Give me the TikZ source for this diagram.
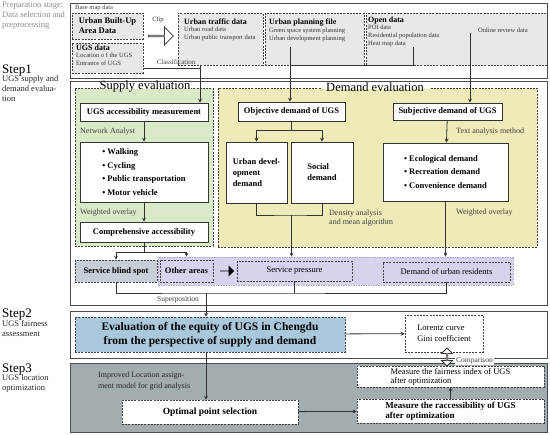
\documentclass[tikz,border=0pt]{standalone}
\usepackage{fontspec}
\setmainfont{Liberation Serif}
\usetikzlibrary{arrows.meta,positioning,shapes.arrows,calc}

% colours of the stages
\definecolor{supgreen}{HTML}{D9EAC8}
\definecolor{demyellow}{HTML}{EEEBB8}
\definecolor{bandlav}{HTML}{D5D3EE}
\definecolor{bandedge}{HTML}{A9A6D0}
\definecolor{evalblue}{HTML}{A9C8DB}
\definecolor{prepgray}{HTML}{E8E8E8}
\definecolor{blindgray}{HTML}{C7CED8}
\definecolor{optigray}{HTML}{A2ADB0}
\definecolor{linegray}{HTML}{333333}

\newcommand\bxfont{\fontsize{8.5}{10}\selectfont\bfseries}
\newcommand\ntfont{\fontsize{8}{9.5}\selectfont}

\tikzset{
  frame/.style={draw=black!70, line width=0.8pt, inner sep=0pt},
  dbox/.style={draw=black!75, dash pattern=on 2pt off 1.2pt, line width=0.7pt, inner sep=2pt, font=\bxfont},
  wbox/.style={draw=black!80, line width=0.8pt, fill=white, inner sep=2pt, font=\bxfont},
  arr/.style={-{Stealth[length=4pt,width=4pt,inset=1.5pt]}, draw=linegray, line width=0.8pt},
  link/.style={draw=linegray, line width=0.8pt},
  note/.style={font=\ntfont, text=black!75, inner sep=0pt, anchor=west},
  ttlsmall/.style={font=\fontsize{8}{9}\selectfont\bfseries, inner sep=0pt, anchor=north west},
  listsmall/.style={font=\fontsize{6.5}{8}\selectfont, text=black!80, inner sep=0pt, anchor=north west, align=left},
  sectitle/.style={font=\fontsize{12.5}{14}\selectfont, inner sep=1pt},
  steplbl/.style={font=\fontsize{13}{14}\selectfont, inner sep=0pt, anchor=west},
  stepdesc/.style={font=\fontsize{8.5}{10}\selectfont, inner sep=0pt, anchor=north west, align=left, text=black!85},
}

\begin{document}
\begin{tikzpicture}[x=1pt,y=-1pt]
  \useasboundingbox (0,0) rectangle (550,435);

  % stage frames
  \node[frame, minimum width=477, minimum height=75] (prepfr) at (308.5,40.5) {};
  \node[frame, minimum width=477, minimum height=224] (s1fr) at (308.5,193) {};
  \node[frame, minimum width=477, minimum height=47] (s2fr) at (308.5,334.5) {};
  \node[frame, fill=optigray, minimum width=477, minimum height=69] (s3fr) at (308.5,397.5) {};

  % stage labels on the left
  \node[anchor=north west, align=left, inner sep=0pt, text=black!45,
        font=\fontsize{8.5}{10}\selectfont] (preplbl) at (2,2) {Preparation stage:\\Data selection and\\preprocessing};
  \node[steplbl] (step1) at (2,71) {Step1};
  \node[stepdesc] (step1d) at ([yshift=1pt]step1.south west) {UGS supply and\\demand evalua-\\tion};
  \node[steplbl] (step2) at (2,315) {Step2};
  \node[stepdesc] (step2d) at ([yshift=1pt]step2.south west) {UGS fairness\\assessment};
  \node[steplbl] (step3) at (2,370) {Step3};
  \node[stepdesc] (step3d) at ([yshift=1pt]step3.south west) {UGS location\\optimization};

  % preparation stage
  \node[note, font=\fontsize{6.5}{8}\selectfont] (basemap) at (75,8) {Base map data};
  \node[dbox, fill=prepgray, minimum width=71, minimum height=26, align=left] (builtup) at (107.5,26) {Urban Built-Up\\Area Data};
  \node[dbox, fill=prepgray, minimum width=71, minimum height=30] (ugsdata) at (107.5,58) {};
  \node[ttlsmall] (ugsttl) at (76,45) {UGS data};
  \node[listsmall] (ugslist) at ([yshift=-1.5pt]ugsttl.south west) {Location o f the UGS\\Entrance of UGS};
  \node[single arrow, draw=black!80, fill=white, line width=0.8pt, minimum width=18, minimum height=25,
        single arrow head extend=4, inner sep=0pt] (cliparr) at (160.5,36) {};
  \node[listsmall, anchor=center] (cliplbl) at (158,20) {Clip};

  \node[dbox, fill=prepgray, minimum width=85, minimum height=52] (traffic) at (220.5,39) {};
  \node[ttlsmall] (traffttl) at (184,19) {Urban traffic data};
  \node[listsmall] (trafflist) at ([yshift=-1.5pt]traffttl.south west) {Urban road data\\Urban public transport data};
  \node[dbox, fill=prepgray, minimum width=99, minimum height=52] (planning) at (314.5,39) {};
  \node[ttlsmall] (planttl) at (269,19) {Urban planning file};
  \node[listsmall] (planlist) at ([yshift=-1pt]planttl.south west) {Green space system planning\\Urban development planning};
  \node[dbox, fill=prepgray, minimum width=181, minimum height=52] (opendata) at (456.5,39) {};
  \node[ttlsmall] (openttl) at (368,17) {Open data};
  \node[listsmall] (openlist) at ([yshift=-0.5pt]openttl.south west) {POI data\\Residential population data\\Heat map data};
  \node[listsmall, anchor=west] (review) at (478,30) {Online review data};
  \node[note, font=\fontsize{7}{8}\selectfont, anchor=center] (clslbl) at (176,62) {Classification};

  % supply and demand evaluation
  \node[dbox, fill=supgreen, minimum width=138, minimum height=158] (supply) at (144,167) {};
  \node[dbox, fill=demyellow, minimum width=319, minimum height=159] (demand) at (377.5,167.5) {};
  \fill[white] (99,86.2) rectangle (191,89.2);
  \fill[white] (321,86.2) rectangle (429,89.2);
  \node[sectitle] (suptitle) at (145,87) {Supply evaluation};
  \node[sectitle] (demtitle) at (375,87) {Demand evaluation};

  \node[wbox, minimum width=128, minimum height=18] (access) at (144,112) {UGS accessibility measurement};
  \node[note] (netlbl) at (80,132) {Network Analyst};
  \node[wbox, minimum width=128, minimum height=60, align=left, font=\fontsize{8.5}{13.5}\selectfont\bfseries] (modes) at (144,172)
    {\textbullet\ Walking\\\textbullet\ Cycling\\\textbullet\ Public transportation\\\textbullet\ Motor vehicle};
  \node[note] (wo1) at (80,213) {Weighted overlay};
  \node[wbox, minimum width=128, minimum height=20] (compre) at (144,232) {Comprehensive accessibility};

  \node[wbox, minimum width=107, minimum height=19] (objective) at (291.5,111.5) {Objective demand of UGS};
  \node[wbox, minimum width=61, minimum height=61, align=left, font=\fontsize{8.5}{11}\selectfont\bfseries] (urbdev) at (256.5,172.5) {Urban devel-\\opment\\demand};
  \node[wbox, minimum width=62, minimum height=61, align=left, font=\fontsize{8.5}{11}\selectfont\bfseries] (social) at (322,172.5) {Social\\demand};
  \node[note, align=left] (denslbl) at (329,218) {Density analysis\\and mean algorithm};
  \node[wbox, minimum width=109, minimum height=17] (subjective) at (447.5,111.5) {Subjective demand of UGS};
  \node[note] (tamlbl) at (456,132) {Text analysis method};
  \node[wbox, minimum width=125, minimum height=58, align=left, font=\fontsize{8.5}{13.5}\selectfont\bfseries] (needs) at (445.5,172)
    {\textbullet\ Ecological demand\\\textbullet\ Recreation demand\\\textbullet\ Convenience demand};
  \node[note] (wo2) at (456,213) {Weighted overlay};

  % results band
  \node[draw=bandedge, dash pattern=on 1.5pt off 1pt, line width=0.8pt, fill=bandlav, minimum width=355, minimum height=28, inner sep=0pt] (band) at (335.5,271) {};
  \node[dbox, fill=blindgray, minimum width=82, minimum height=22] (blind) at (116,271) {Service blind spot};
  \node[dbox, minimum width=53, minimum height=22] (other) at (186.5,271) {Other areas};
  \node[single arrow, fill=black, minimum width=11, minimum height=14, single arrow head extend=2.5, inner sep=0pt] (bigarr) at (227,271) {};
  \node[dbox, minimum width=115, minimum height=20, font=\fontsize{8.5}{10}\selectfont] (press) at (294.5,271) {Service pressure};
  \node[dbox, minimum width=127, minimum height=20, font=\fontsize{8.5}{10}\selectfont] (resid) at (446.5,272) {Demand of urban residents};
  \node[note, font=\fontsize{7.5}{9}\selectfont, anchor=center] (suplbl) at (178,300) {Superposition};

  % fairness assessment
  \node[dbox, fill=evalblue, minimum width=270, minimum height=35, align=center, font=\fontsize{11.5}{13.5}\selectfont\bfseries] (eval) at (210,334.5)
    {Evaluation of the equity of UGS in Chengdu\\from the perspective of supply and demand};
  \node[dbox, fill=white, minimum width=78, minimum height=37, align=left, font=\fontsize{8.5}{11}\selectfont] (lorenz) at (444,333.5) {Lorentz curve\\Gini coefficient};

  % location optimization
  \node[note, align=left, text=black!85, font=\fontsize{8}{11.5}\selectfont] (improved) at (98,381) {Improved Location assign-\\ment model for grid analysis};
  \node[dbox, fill=white, minimum width=176, minimum height=24, font=\fontsize{9.5}{11}\selectfont\bfseries] (optimal) at (210,412) {Optimal point selection};
  \node[dbox, fill=white, minimum width=187, minimum height=21, align=left, font=\fontsize{8.5}{9}\selectfont] (fair) at (450.5,376.5) {Measure the fairness index of UGS\\after optimization};
  \node[dbox, fill=white, minimum width=187, minimum height=24, align=left, font=\fontsize{9}{10}\selectfont\bfseries] (racc) at (450.5,411) {Measure the raccessibility of UGS\\after optimization};
  \node[double arrow, draw=black!80, fill=white, line width=0.8pt, rotate=90, minimum width=11, minimum height=18,
        double arrow head extend=2.5, inner sep=0pt] (cmp) at (447,357) {};
  \node[note, font=\fontsize{7.5}{9}\selectfont, fill=white, inner sep=1pt] (cmplbl) at (455,361) {Comparison};

  % connectors
  \coordinate (clsj) at (200,68);
  \draw[link] (ugsdata.east |- clsj) -- (clsj);
  \draw[arr] (traffic.south -| clsj) -- (access.north -| clsj);

  \coordinate (pt) at (290,47);
  \coordinate (ot) at (413,47);
  \coordinate (pj) at (290,65);
  \coordinate (oj) at (413,65);
  \draw[link] (pt) -- (pj) -- (oj) -- (ot);
  \draw[arr] (pj) -- (objective.north -| pj);
  \coordinate (rv) at (470,33);
  \draw[arr] (rv) -- (subjective.north -| rv);

  \draw[arr] (access) -- (modes);
  \draw[arr] (modes) -- (compre);
  \coordinate (cs) at (144,252);
  \draw[link] (compre.south) -- (cs);
  \draw[arr] (cs) -| (blind.north);
  \draw[arr] (cs) -| (other.north |- band.north);

  \coordinate (os) at (291.5,130);
  \draw[link] (objective.south) -- (os);
  \draw[arr] (os) -| (urbdev.north);
  \draw[arr] (os) -| (social.north);
  \coordinate (dj) at (291.5,215);
  \draw[link] (urbdev.south) |- (dj) -| (social.south);
  \draw[arr] (dj) -- (dj |- band.north);

  \draw[arr] (subjective) -- (needs);
  \draw[arr] (needs.south) -- (needs.south |- band.north);

  \coordinate (sp) at (206,293);
  \draw[link] (blind.south) |- (sp) -| (resid.south);
  \draw[link] (press.south) -- (press.south |- sp);
  \draw[arr] (sp) -- (eval.north -| sp);
  \draw[arr] (eval) -- (lorenz);
  \draw[arr] (eval.south -| sp) -- (optimal.north -| sp);
  \draw[arr] (optimal) -- (racc);
  \draw[arr] (racc) -- (fair);
\end{tikzpicture}
\end{document}
